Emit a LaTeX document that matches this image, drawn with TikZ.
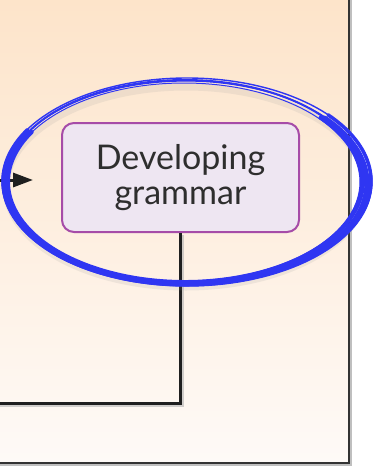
\documentclass[tikz,border=0pt]{standalone}
\usepackage{fontspec}
\setmainfont{Lato}
\usetikzlibrary{arrows.meta,positioning}
\definecolor{panelTop}{HTML}{FDE4CA}
\definecolor{panelBot}{HTML}{FEFAF7}
\definecolor{gramFill}{HTML}{EEE6F2}
\definecolor{gramLine}{HTML}{A64CA8}
\definecolor{gramText}{HTML}{2E2E2E}
\definecolor{inkBlue}{HTML}{2F36F2}

\tikzset{
  gram/.style={draw=gramLine,line width=2pt,fill=gramFill,rounded corners=12pt,
    minimum width=237pt,minimum height=109pt,align=center,text=gramText,
    font=\fontsize{34}{35}\selectfont},
  flow/.style={draw=black!88,line width=3pt},
  flowshade/.style={draw=black!30,line width=3pt,opacity=0.6},
  brush/.style={draw=inkBlue,line cap=round},
}

\begin{document}
\begin{tikzpicture}[x=1pt,y=-1pt]
  \def\pw{349}
  \def\ph{463}
  \useasboundingbox (0,0) rectangle (377,467);
  \fill[white] (0,0) rectangle (377,467);
  \shade[top color=panelTop,bottom color=panelBot] (0,0) rectangle (\pw,\ph);
  % panel border
  \draw[black!25,line width=2.5pt] (\pw+2,0) -- (\pw+2,\ph+2) -- (0,\ph+2);
  \draw[black!80,line width=1.6pt] (\pw,0) -- (\pw,\ph) -- (0,\ph);

  \node[gram] (grammar) at (180.5,177.5) {Developing\\grammar};

  \coordinate (src) at (0,180);
  \coordinate (tip) at (33,180);
  \coordinate (exit) at (0,403);
  \draw[flowshade] ([xshift=2pt,yshift=-2pt]grammar.south) |- ([yshift=-2pt]exit);
  \draw[flow] (grammar.south) |- (exit);
  \draw[flow,-{Triangle[length=20pt,width=14pt]}] (src) -- (tip);

  % hand-drawn ring
  \draw[black!40,opacity=0.15,line width=7pt] (186,187) ellipse [x radius=180, y radius=100];
  \foreach \cx/\cy/\rx/\ry/\w in {187/182/185/104/1.4,185/181/179/101/2,186/183/182/102/1.2,184/182/176/99/1}
    \draw[brush,line width=\w pt] (\cx,\cy) ellipse [x radius=\rx, y radius=\ry];
  \foreach \cx/\cy/\rx/\ry/\w in {186/183/181/101/5,185/182/177/100/4,187/181/184/103/3.5}
    \draw[brush,line width=\w pt] (\cx,\cy) ++({\rx*cos(-150)},{\ry*sin(-150)})
      arc[start angle=-150,end angle=-400,x radius=\rx,y radius=\ry];
\end{tikzpicture}
\end{document}
